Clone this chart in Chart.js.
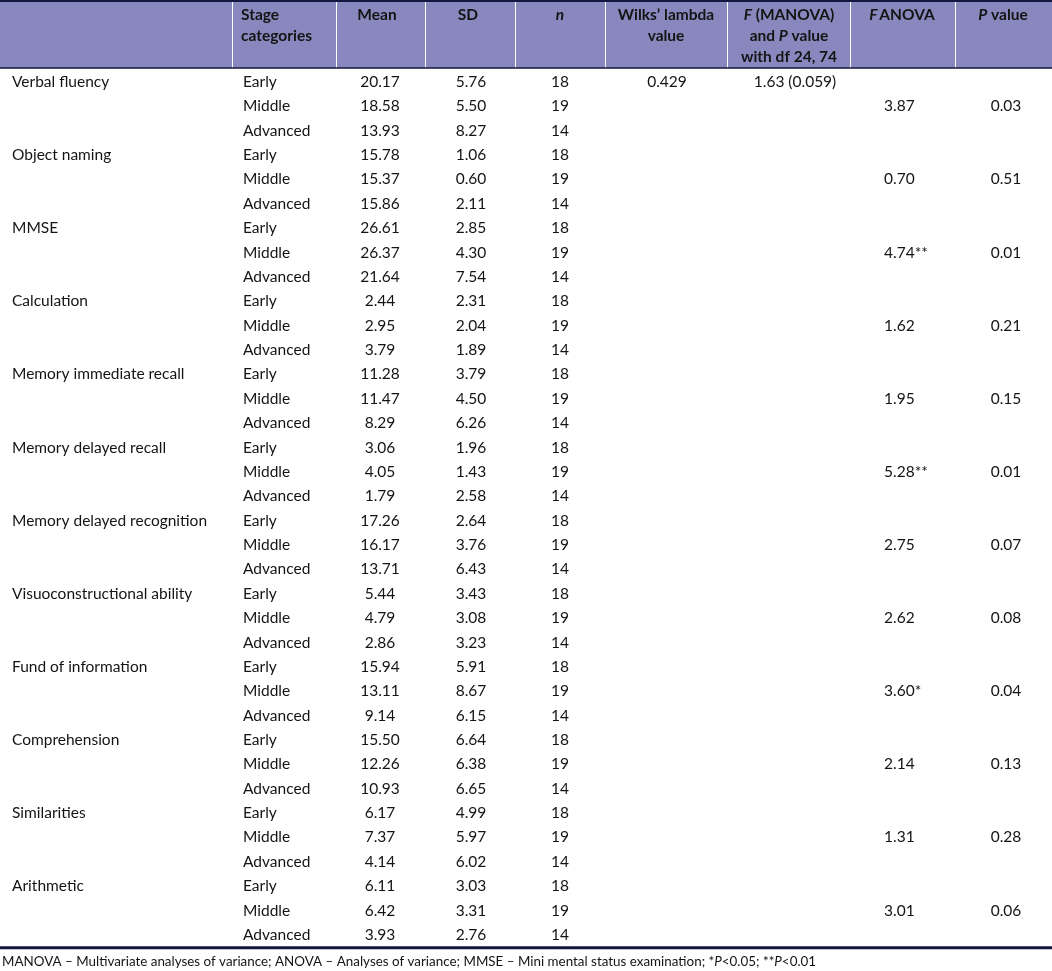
<!DOCTYPE html>
<html>
<head>
<meta charset="utf-8">
<script src="https://cdn.jsdelivr.net/npm/chart.js@4.4.1/dist/chart.umd.min.js"></script>
<style>
  body { margin: 0; background: #fff; }
  canvas { display: block; }
</style>
</head>
<body>
<canvas id="table" width="1052" height="971"></canvas>
<script>
// table values
const tests = ['Verbal fluency', 'Object naming', 'MMSE', 'Calculation', 'Memory immediate recall',
  'Memory delayed recall', 'Memory delayed recognition', 'Visuoconstructional ability',
  'Fund of information', 'Comprehension', 'Similarities', 'Arithmetic'];
const stages = ['Early', 'Middle', 'Advanced'];
const means = [20.17, 18.58, 13.93, 15.78, 15.37, 15.86, 26.61, 26.37, 21.64, 2.44, 2.95, 3.79,
  11.28, 11.47, 8.29, 3.06, 4.05, 1.79, 17.26, 16.17, 13.71, 5.44, 4.79, 2.86,
  15.94, 13.11, 9.14, 15.50, 12.26, 10.93, 6.17, 7.37, 4.14, 6.11, 6.42, 3.93];
const sds = [5.76, 5.50, 8.27, 1.06, 0.60, 2.11, 2.85, 4.30, 7.54, 2.31, 2.04, 1.89,
  3.79, 4.50, 6.26, 1.96, 1.43, 2.58, 2.64, 3.76, 6.43, 3.43, 3.08, 3.23,
  5.91, 8.67, 6.15, 6.64, 6.38, 6.65, 4.99, 5.97, 6.02, 3.03, 3.31, 2.76];
const ns = [18, 19, 14];
const fAnova = ['3.87', '0.70', '4.74**', '1.62', '1.95', '5.28**', '2.75', '2.62', '3.60*', '2.14', '1.31', '3.01'];
const pValues = ['0.03', '0.51', '0.01', '0.21', '0.15', '0.01', '0.07', '0.08', '0.04', '0.13', '0.28', '0.06'];
const wilksLambda = '0.429';
const fManova = '1.63 (0.059)';

// header cells: lines of [text, italic] pieces
const headers = [
  { x: 241, align: 'left', lines: [[['Stage', false]], [['categories', false]]] },
  { x: 377, align: 'center', lines: [[['Mean', false]]] },
  { x: 468, align: 'center', lines: [[['SD', false]]] },
  { x: 560, align: 'center', lines: [[['n', true]]] },
  { x: 666, align: 'center', lines: [[['Wilks\u2019 lambda', false]], [['value', false]]] },
  { x: 789, align: 'center', lines: [[['F', true], [' (MANOVA)', false]], [['and ', false], ['P', true], [' value', false]], [['with df 24, 74', false]]] },
  { x: 902, align: 'center', lines: [[['F', true], ['\u2009ANOVA', false]]] },
  { x: 1003, align: 'center', lines: [[['P', true], [' value', false]]] }
];
const separators = [232, 336, 425, 515, 605, 727, 850, 955];
const footnote = [['MANOVA \u2013 Multivariate analyses of variance; ANOVA \u2013 Analyses of variance; MMSE \u2013 Mini mental status examination; *', false],
  ['P', true], ['<0.05; **', false], ['P', true], ['<0.01', false]];

const FONT = 'Lato, "Open Sans", sans-serif';
const ink = '#141414';

function col(x, rows, texts, align) {
  return {
    data: rows.map((r, i) => ({ x: x, y: r, label: texts[i] })),
    align: align,
    pointRadius: 0
  };
}

const allRows = means.map((_, i) => i);
const midRows = tests.map((_, i) => i * 3 + 1);
const datasets = [
  col(12, tests.map((_, i) => i * 3), tests, 'left'),
  col(243, allRows, allRows.map(i => stages[i % 3]), 'left'),
  col(380, allRows, means.map(v => v.toFixed(2)), 'center'),
  col(471, allRows, sds.map(v => v.toFixed(2)), 'center'),
  col(560, allRows, allRows.map(i => String(ns[i % 3])), 'center'),
  col(667, [0], [wilksLambda], 'center'),
  col(795, [0], [fManova], 'center'),
  col(884, midRows, fAnova, 'left'),
  col(1006, midRows, pValues, 'center')
];

function drawRich(ctx, pieces, x, y, align, size, weight) {
  const fontOf = it => (it ? 'italic ' : '') + weight + ' ' + size + 'px ' + FONT;
  let total = 0;
  pieces.forEach(p => { ctx.font = fontOf(p[1]); total += ctx.measureText(p[0]).width; });
  let cx = align === 'center' ? x - total / 2 : x;
  ctx.textAlign = 'left';
  pieces.forEach(p => {
    ctx.font = fontOf(p[1]);
    ctx.fillText(p[0], cx, y);
    cx += ctx.measureText(p[0]).width;
  });
}

const tablePlugin = {
  id: 'tablePlugin',
  beforeDatasetsDraw(chart) {
    const ctx = chart.ctx;
    const xs = chart.scales.x, ys = chart.scales.y;
    const top = ys.getPixelForValue(-3.365), hb = ys.getPixelForValue(-0.575);
    ctx.save();
    ctx.fillStyle = '#8988be';
    ctx.fillRect(0, top, chart.width, hb - top);
    ctx.strokeStyle = '#ffffff';
    ctx.lineWidth = 1;
    separators.forEach(s => {
      const px = Math.round(xs.getPixelForValue(s)) + 0.5;
      ctx.beginPath(); ctx.moveTo(px, top + 2); ctx.lineTo(px, hb); ctx.stroke();
    });
    ctx.strokeStyle = '#12173f';
    ctx.lineWidth = 2;
    ctx.beginPath(); ctx.moveTo(0, top + 1); ctx.lineTo(chart.width, top + 1); ctx.stroke();
    ctx.lineWidth = 1.5;
    ctx.beginPath(); ctx.moveTo(0, hb); ctx.lineTo(chart.width, hb); ctx.stroke();
    const bl = ys.getPixelForValue(35.53);
    ctx.lineWidth = 3;
    ctx.beginPath(); ctx.moveTo(0, bl); ctx.lineTo(chart.width, bl); ctx.stroke();

    ctx.fillStyle = ink;
    ctx.textBaseline = 'middle';
    const lineRows = [-2.76, -1.9, -1.04];
    headers.forEach(h => {
      h.lines.forEach((ln, li) => {
        drawRich(ctx, ln, xs.getPixelForValue(h.x), ys.getPixelForValue(lineRows[li]), h.align, 15.5, 'bold');
      });
    });
    drawRich(ctx, footnote, xs.getPixelForValue(2), ys.getPixelForValue(36.1), 'left', 13.4, 'normal');
    ctx.restore();
  },
  afterDatasetsDraw(chart) {
    const ctx = chart.ctx;
    ctx.save();
    ctx.fillStyle = ink;
    ctx.textBaseline = 'middle';
    ctx.font = '15.5px ' + FONT;
    chart.data.datasets.forEach((ds, di) => {
      ctx.textAlign = ds.align;
      chart.getDatasetMeta(di).data.forEach((pt, i) => {
        ctx.fillText(ds.data[i].label, pt.x, pt.y);
      });
    });
    ctx.restore();
  }
};

new Chart(document.getElementById('table'), {
  type: 'scatter',
  data: { datasets: datasets },
  options: {
    responsive: false,
    animation: false,
    events: [],
    layout: { padding: 0 },
    plugins: { legend: { display: false }, tooltip: { enabled: false } },
    scales: {
      x: { type: 'linear', display: false, min: 0, max: 1052 },
      y: { type: 'linear', display: false, reverse: true, min: -3.365, max: 36.48 }
    }
  },
  plugins: [tablePlugin]
});
</script>
</body>
</html>
